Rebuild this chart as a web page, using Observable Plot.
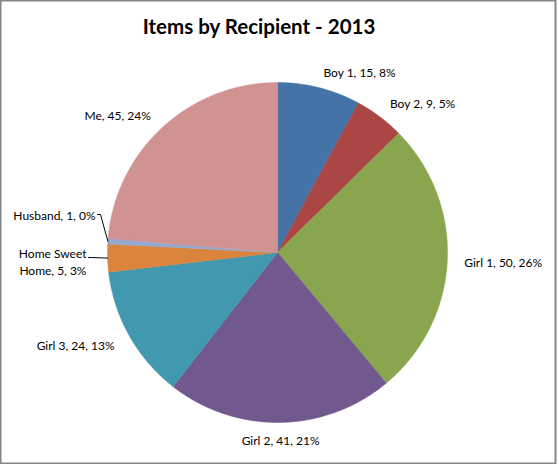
<!DOCTYPE html>
<html>
<head>
<meta charset="utf-8">
<script src="https://cdn.jsdelivr.net/npm/d3@7"></script>
<script src="https://cdn.jsdelivr.net/npm/@observablehq/plot@0.6"></script>
<style>
  html, body { margin: 0; padding: 0; background: #fff; }
  #chart svg { display: block; }
</style>
</head>
<body>
<div id="chart"></div>
<script>
// ---- data ----
const title = "Items by Recipient - 2013";
const recipients = ["Boy 1", "Boy 2", "Girl 1", "Girl 2", "Girl 3", "Home Sweet Home", "Husband", "Me"];
const items = [15, 9, 50, 41, 24, 5, 1, 45];
const percents = ["8%", "5%", "26%", "21%", "13%", "3%", "0%", "24%"];
const colors = ["#4572A7", "#AA4643", "#89A54E", "#71588F", "#4198AF", "#DB843D", "#93A9CF", "#D19392"];

// ---- layout ----
const W = 559, H = 464;
const CX = 277, CY = 252, R = 170;          // pie centre / radius in pixels
const labelRadius = 1.1;
// labels Excel moved aside and connected with a leader line (pixel positions)
const leader = {
  "Husband": {x: 95, y: 214, lineY: 214},
  "Home Sweet Home": {x: 86, y: 261, lineY: 257}
};
const font = "Lato, 'Open Sans', sans-serif";

const arcs = d3.pie().sort(null).value(d => d)(items);
const pt = (a, r) => [r * Math.sin(a), r * Math.cos(a)];
const px = (x) => (x - CX) / R;   // pixel -> data
const py = (y) => (CY - y) / R;

// wedge polygons
const wedgePts = [];
arcs.forEach((a, i) => {
  const name = recipients[i];
  wedgePts.push({name, x: 0, y: 0});
  const n = Math.max(2, Math.ceil((a.endAngle - a.startAngle) / 0.005));
  for (let k = 0; k <= n; k++) {
    const t = a.startAngle + (a.endAngle - a.startAngle) * k / n;
    const [x, y] = pt(t, 1);
    wedgePts.push({name, x, y});
  }
  wedgePts.push({name, x: 0, y: 0});
});

// labels
const labels = arcs.map((a, i) => {
  const name = recipients[i];
  const mid = (a.startAngle + a.endAngle) / 2;
  const text = name === "Home Sweet Home"
    ? `Home Sweet\nHome, ${items[i]}, ${percents[i]}`
    : `${name}, ${items[i]}, ${percents[i]}`;
  if (leader[name]) {
    return {name, text, x: px(leader[name].x), y: py(leader[name].y), anchor: "end"};
  }
  const [x, y] = pt(mid, labelRadius);
  const s = Math.sin(mid);
  const anchor = s > 0.1 ? "start" : s < -0.1 ? "end" : "middle";
  return {name, text, x, y, anchor};
});

// leader lines
const leaderPts = [];
arcs.forEach((a, i) => {
  const name = recipients[i];
  if (!leader[name]) return;
  const mid = (a.startAngle + a.endAngle) / 2;
  const L = leader[name];
  const [ex, ey] = pt(mid, 1);
  leaderPts.push({name, x: px(L.x + 2), y: py(L.lineY)});
  leaderPts.push({name, x: Math.min(px(L.x + 5), ex), y: py(L.lineY)});
  leaderPts.push({name, x: ex, y: ey});
});

const textOpts = {x: "x", y: "y", text: "text", fontSize: 12, fill: "#000", fontFamily: font, lineHeight: 1.4};

const chart = Plot.plot({
  width: W,
  height: H,
  margin: 0,
  style: {background: "#fff", fontFamily: font},
  x: {domain: [px(0), px(W)], axis: null},
  y: {domain: [py(H), py(0)], axis: null},
  color: {domain: recipients, range: colors},
  marks: [
    Plot.line(wedgePts, {x: "x", y: "y", z: "name", fill: "name", stroke: "name", strokeWidth: 0.5, curve: "linear"}),
    Plot.line(leaderPts, {x: "x", y: "y", z: "name", stroke: "#000", strokeWidth: 1}),
    Plot.text(labels.filter(d => d.anchor === "start"), {...textOpts, textAnchor: "start"}),
    Plot.text(labels.filter(d => d.anchor === "end"), {...textOpts, textAnchor: "end"}),
    Plot.text(labels.filter(d => d.anchor === "middle"), {...textOpts, textAnchor: "middle"}),
    Plot.text([title], {frameAnchor: "top", dx: -21, dy: 27, lineAnchor: "middle", fontSize: 20.5, fontWeight: "bold", fill: "#000", fontFamily: font}),
    Plot.frame({stroke: "#868686", strokeWidth: 2, insetRight: 4, insetBottom: 1})
  ]
});
document.getElementById("chart").append(chart);
</script>
</body>
</html>
